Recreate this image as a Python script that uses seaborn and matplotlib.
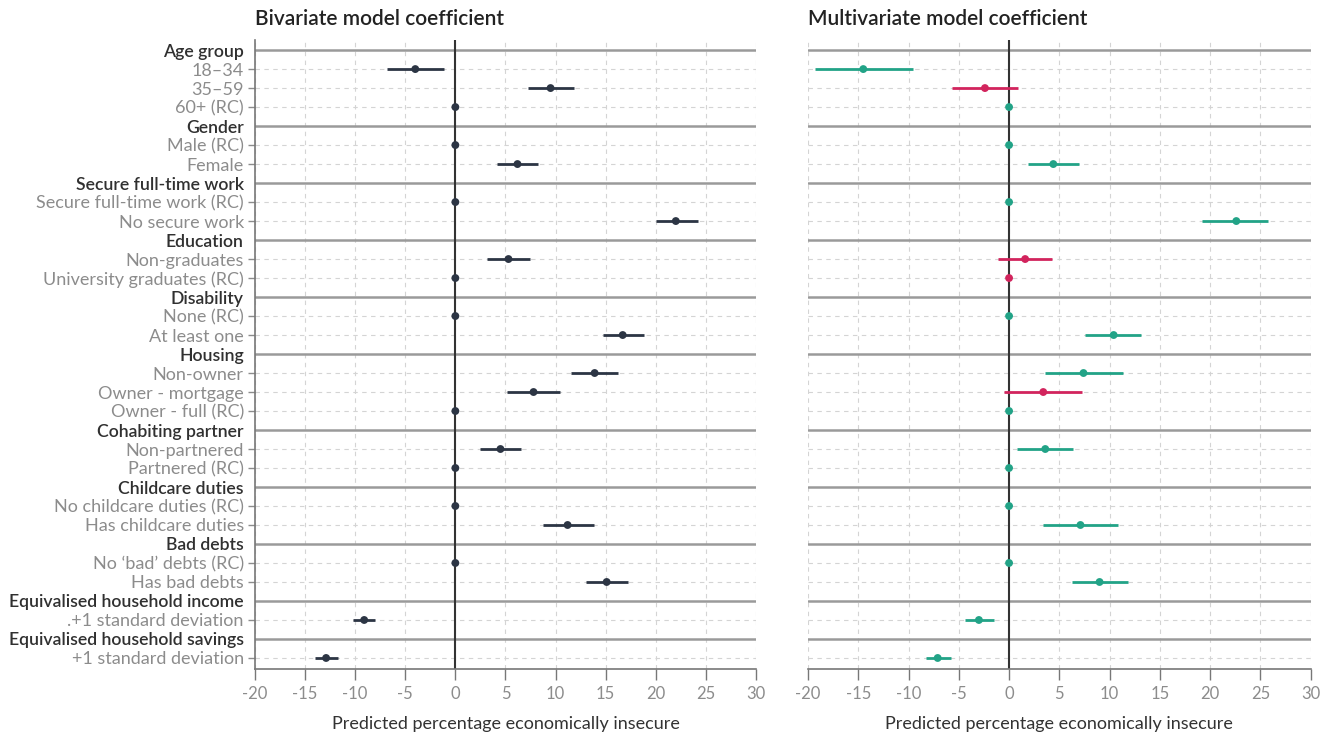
"""Coefficient plot: bivariate vs multivariate models of economic insecurity."""

import matplotlib
matplotlib.use("Agg")
import matplotlib.pyplot as plt
import numpy as np
import pandas as pd
import seaborn as sns

GROUPS = [
    "Age group", "Gender", "Secure full-time work", "Education", "Disability",
    "Housing", "Cohabiting partner", "Childcare duties", "Bad debts",
    "Equivalised household income", "Equivalised household savings",
]
ITEMS = [
    ["18–34", "35–59", "60+ (RC)"],
    ["Male (RC)", "Female"],
    ["Secure full-time work (RC)", "No secure work"],
    ["Non-graduates", "University graduates (RC)"],
    ["None (RC)", "At least one"],
    ["Non-owner", "Owner - mortgage", "Owner - full (RC)"],
    ["Non-partnered", "Partnered (RC)"],
    ["No childcare duties (RC)", "Has childcare duties"],
    ["No ‘bad’ debts (RC)", "Has bad debts"],
    [".+1 standard deviation"],
    ["+1 standard deviation"],
]

bi_coef = [-4.0, 9.5, 0, 0, 6.2, 0, 22.0, 5.3, 0, 0, 16.7,
           13.9, 7.8, 0, 4.5, 0, 0, 11.2, 0, 15.1, -9.1, -12.9]
bi_low = [-6.8, 7.2, 0, 0, 4.2, 0, 20.0, 3.2, 0, 0, 14.7,
          11.5, 5.2, 0, 2.5, 0, 0, 8.7, 0, 13.0, -10.2, -14.0]
bi_high = [-1.1, 11.8, 0, 0, 8.2, 0, 24.2, 7.4, 0, 0, 18.8,
           16.2, 10.4, 0, 6.6, 0, 0, 13.8, 0, 17.2, -8.0, -11.7]

mv_coef = [-14.5, -2.4, 0, 0, 4.4, 0, 22.6, 1.6, 0, 0, 10.4,
           7.4, 3.4, 0, 3.6, 0, 0, 7.1, 0, 9.0, -3.0, -7.1]
mv_low = [-19.3, -5.7, 0, 0, 1.9, 0, 19.2, -1.1, 0, 0, 7.6,
          3.6, -0.5, 0, 0.8, 0, 0, 3.4, 0, 6.3, -4.4, -8.3]
mv_high = [-9.6, 0.9, 0, 0, 7.0, 0, 25.8, 4.3, 0, 0, 13.1,
           11.3, 7.3, 0, 6.4, 0, 0, 10.8, 0, 11.8, -1.5, -5.8]
mv_sig = [True, False, True, True, True, True, True, False, False, True, True,
          True, False, True, True, True, True, True, True, True, True, True]

X_TICKS = [-20, -15, -10, -5, 0, 5, 10, 15, 20, 25, 30]

NAVY = "#2c3544"
TEAL = "#22a387"
RED = "#d2245d"
LABEL_GREY = "#8c8c8c"
HEAD_GREY = "#303030"

# build row table: header rows followed by their items
rows = []
k = 0
for g, items in zip(GROUPS, ITEMS):
    rows.append(dict(label=g, header=True))
    for it in items:
        rows.append(dict(label=it, header=False, bi=bi_coef[k], bi_lo=bi_low[k],
                         bi_hi=bi_high[k], mv=mv_coef[k], mv_lo=mv_low[k],
                         mv_hi=mv_high[k],
                         sig="sig" if mv_sig[k] else "ns"))
        k += 1
df = pd.DataFrame(rows)
df["pos"] = np.arange(len(df))
items_df = df[~df["header"]]

sns.set_theme(style="white")
plt.rcParams["font.family"] = ["Lato", "DejaVu Sans"]

fig = plt.figure(figsize=(13.3, 7.38), dpi=100)
ax_l = fig.add_axes([0.1917, 0.0935, 0.3767, 0.8523])
ax_r = fig.add_axes([0.6075, 0.0935, 0.3780, 0.8523])


def style_axis(ax, title, show_labels):
    ax.set_xlim(-20, 30)
    ax.set_ylim(len(df) - 0.42, -0.53)
    ax.set_xticks(X_TICKS)
    ax.set_xticklabels([str(t) for t in X_TICKS], color=LABEL_GREY, fontsize=12)
    ax.tick_params(axis="x", length=8, width=1, color="#777777", pad=4,
                   direction="out", bottom=True)
    for x in X_TICKS:
        ax.axvline(x, color="#d4d4d4", lw=0.8, ls=(0, (4, 4)), zorder=0)
    for _, r in df.iterrows():
        if r["header"]:
            ax.axhline(r["pos"], color="#9a9a9a", lw=1.8, zorder=1)
        else:
            ax.axhline(r["pos"], color="#d4d4d4", lw=0.8, ls=(0, (4, 4)), zorder=0)
    ax.axvline(0, color="#333333", lw=1.5, zorder=2)
    for s in ["top", "right"]:
        ax.spines[s].set_visible(False)
    ax.spines["bottom"].set_color("#777777")
    ax.spines["bottom"].set_linewidth(1.2)
    ax.set_yticks(df["pos"])
    if show_labels:
        ax.spines["left"].set_color("#777777")
        ax.spines["left"].set_linewidth(1.2)
        ax.set_yticklabels(df["label"], fontsize=13)
        ax.tick_params(axis="y", length=5, width=1, color=LABEL_GREY, pad=3, left=True)
        for tick, lab, is_head in zip(ax.yaxis.get_major_ticks(),
                                      ax.get_yticklabels(), df["header"]):
            if is_head:
                tick.tick1line.set_visible(False)
                lab.set_color(HEAD_GREY)
                lab.set_fontweight("semibold")
                lab.set_fontsize(12.7)
            else:
                lab.set_color(LABEL_GREY)
    else:
        ax.spines["left"].set_visible(False)
        ax.set_yticklabels([])
        ax.tick_params(axis="y", length=0, left=False)
    ax.set_ylabel("")
    ax.set_xlabel("Predicted percentage economically insecure", fontsize=13,
                  color="#333333", labelpad=10)
    ax.set_title(title, loc="left", fontsize=15, fontweight="semibold",
                 color="#222222", pad=11)


# left panel: bivariate
ax_l.hlines(items_df["pos"], items_df["bi_lo"], items_df["bi_hi"],
            color=NAVY, lw=2, zorder=3)
sns.scatterplot(data=items_df, x="bi", y="pos", color=NAVY, s=32,
                edgecolor="none", ax=ax_l, zorder=4, legend=False)
style_axis(ax_l, "Bivariate model coefficient", True)

# right panel: multivariate, coloured by significance
pal = {"sig": TEAL, "ns": RED}
ax_r.hlines(items_df["pos"], items_df["mv_lo"], items_df["mv_hi"],
            colors=items_df["sig"].map(pal), lw=2, zorder=3)
sns.scatterplot(data=items_df, x="mv", y="pos", hue="sig", palette=pal, s=32,
                edgecolor="none", ax=ax_r, zorder=4, legend=False)
style_axis(ax_r, "Multivariate model coefficient", False)

plt.savefig("out.png", dpi=100)
plt.close()
